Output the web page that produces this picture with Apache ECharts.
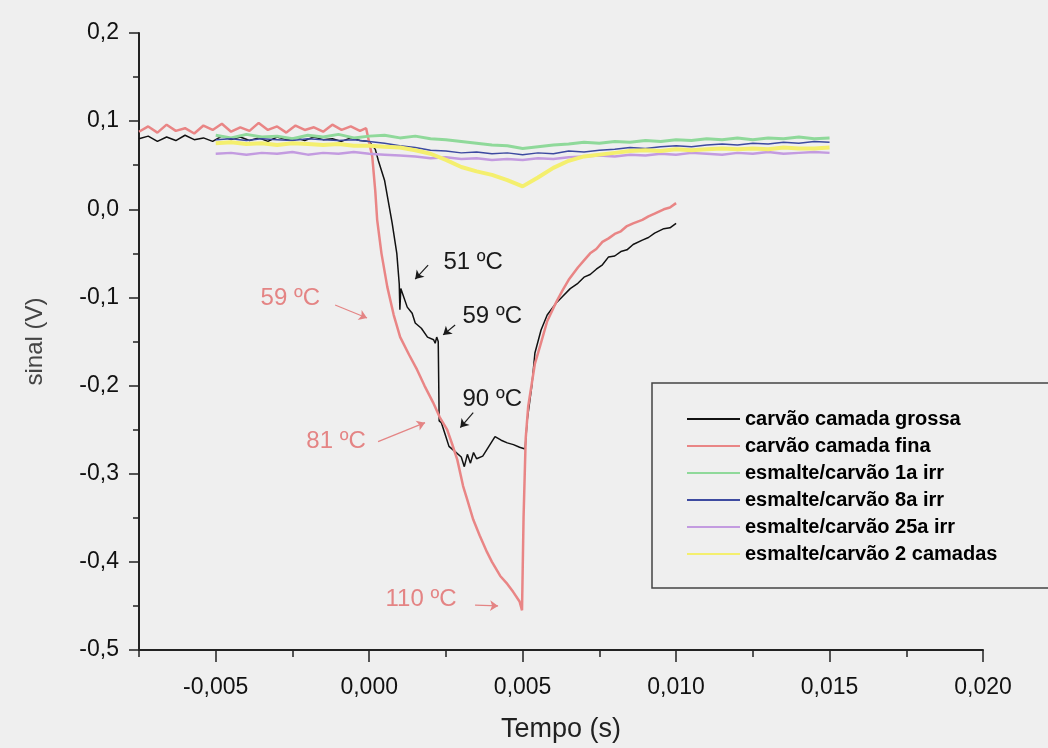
<!DOCTYPE html>
<html>
<head>
<meta charset="utf-8">
<script src="https://cdn.jsdelivr.net/npm/echarts@6/dist/echarts.min.js"></script>
<style>
  html, body { margin: 0; background: #efefef; }
  #chart { width: 1048px; height: 748px; }
</style>
</head>
<body>
<div id="chart"></div>
<script>
  // tick positions of the time axis (every 0.0025 s, labels on every other one)
  const xTicks = [-0.0075, -0.005, -0.0025, 0, 0.0025, 0.005, 0.0075, 0.01, 0.0125, 0.015, 0.0175, 0.02];

  const seriesNames = [
    'carvão camada grossa',
    'carvão camada fina',
    'esmalte/carvão 1a irr',
    'esmalte/carvão 8a irr',
    'esmalte/carvão 25a irr',
    'esmalte/carvão 2 camadas'
  ];

  // [tempo, sinal]
  const grossa = [
    [-0.0075, 0.080], [-0.0072, 0.083], [-0.0069, 0.077], [-0.0066, 0.082], [-0.0063, 0.078],
    [-0.0060, 0.084], [-0.0057, 0.079], [-0.0054, 0.081], [-0.0051, 0.077], [-0.0048, 0.083],
    [-0.0045, 0.079], [-0.0042, 0.082], [-0.0039, 0.078], [-0.0036, 0.081], [-0.0033, 0.077],
    [-0.0030, 0.082], [-0.0027, 0.079], [-0.0024, 0.081], [-0.0021, 0.078], [-0.0018, 0.082],
    [-0.0015, 0.079], [-0.0012, 0.080], [-0.0009, 0.077], [-0.0006, 0.081], [-0.0003, 0.078],
    [0.0, 0.077], [0.0002, 0.068], [0.0003, 0.055], [0.0005, 0.033], [0.00075, -0.016],
    [0.0009, -0.05], [0.00098, -0.085], [0.0010, -0.114], [0.00103, -0.09], [0.00107, -0.088],
    [0.00124, -0.111], [0.0014, -0.118], [0.0015, -0.129], [0.0017, -0.135], [0.0019, -0.145],
    [0.0021, -0.148], [0.00215, -0.152], [0.0022, -0.145], [0.00225, -0.150], [0.00228, -0.24],
    [0.00235, -0.242], [0.0025, -0.258], [0.0026, -0.269], [0.0028, -0.275], [0.0030, -0.281],
    [0.0031, -0.292], [0.0032, -0.278], [0.0033, -0.288], [0.0034, -0.276], [0.0035, -0.283],
    [0.0037, -0.280], [0.0039, -0.269], [0.0041, -0.258], [0.0043, -0.262], [0.0045, -0.265],
    [0.0047, -0.267], [0.0049, -0.270], [0.00508, -0.272], [0.00515, -0.239], [0.0053, -0.200],
    [0.0054, -0.163], [0.0056, -0.137], [0.0058, -0.120], [0.0061, -0.106], [0.0063, -0.099],
    [0.00655, -0.090], [0.0068, -0.084], [0.0070, -0.077], [0.0072, -0.074], [0.0074, -0.068],
    [0.0076, -0.063], [0.0078, -0.054], [0.0080, -0.053], [0.0082, -0.048], [0.0084, -0.046],
    [0.0086, -0.040], [0.0089, -0.035], [0.0091, -0.032], [0.0093, -0.027], [0.0096, -0.022],
    [0.0098, -0.021], [0.0100, -0.016]
  ];

  const fina = [
    [-0.0075, 0.088], [-0.0072, 0.094], [-0.0069, 0.087], [-0.0066, 0.096], [-0.0063, 0.089],
    [-0.0060, 0.092], [-0.0057, 0.086], [-0.0054, 0.095], [-0.0051, 0.090], [-0.0048, 0.097],
    [-0.0045, 0.088], [-0.0042, 0.093], [-0.0039, 0.089], [-0.0036, 0.098], [-0.0033, 0.090],
    [-0.0030, 0.094], [-0.0027, 0.087], [-0.0024, 0.095], [-0.0021, 0.090], [-0.0018, 0.093],
    [-0.0015, 0.088], [-0.0012, 0.096], [-0.0009, 0.090], [-0.0006, 0.094], [-0.0003, 0.089],
    [-0.0001, 0.092], [0.0001, 0.060], [0.0002, 0.020], [0.00026, -0.012], [0.0004, -0.050],
    [0.00059, -0.088], [0.0008, -0.120], [0.00101, -0.145], [0.0013, -0.165], [0.00156, -0.182],
    [0.0018, -0.200], [0.00208, -0.219], [0.0023, -0.236], [0.00254, -0.250], [0.0027, -0.266],
    [0.00287, -0.284], [0.00306, -0.314], [0.0032, -0.330], [0.00339, -0.352], [0.0036, -0.370],
    [0.00384, -0.389], [0.0040, -0.400], [0.00427, -0.416], [0.0045, -0.425], [0.00469, -0.434],
    [0.0049, -0.445], [0.00498, -0.455], [0.00503, -0.350], [0.0051, -0.260], [0.00518, -0.224],
    [0.0054, -0.175], [0.00557, -0.155], [0.0058, -0.127], [0.0061, -0.105], [0.0063, -0.092],
    [0.0065, -0.080], [0.0068, -0.066], [0.0070, -0.058], [0.0072, -0.050], [0.0074, -0.045],
    [0.0076, -0.037], [0.0078, -0.033], [0.0080, -0.028], [0.0082, -0.025], [0.0084, -0.019],
    [0.0086, -0.016], [0.0089, -0.012], [0.0091, -0.008], [0.0093, -0.005], [0.0096, 0.000],
    [0.0098, 0.002], [0.0100, 0.007]
  ];

  // the four enamel curves share the same sampling times
  const tempoEsmalte = [
    -0.005, -0.0045, -0.004, -0.0035, -0.003, -0.0025, -0.002, -0.0015, -0.001, -0.0005,
    0.0, 0.0005, 0.001, 0.0015, 0.002, 0.0025, 0.003, 0.0035, 0.004, 0.0045,
    0.005, 0.0055, 0.006, 0.0065, 0.007, 0.0075, 0.008, 0.0085, 0.009, 0.0095,
    0.01, 0.0105, 0.011, 0.0115, 0.012, 0.0125, 0.013, 0.0135, 0.014, 0.0145, 0.015
  ];
  const irr1 = [
    0.084, 0.081, 0.085, 0.082, 0.083, 0.080, 0.084, 0.082, 0.085, 0.081,
    0.083, 0.084, 0.081, 0.083, 0.080, 0.079, 0.077, 0.075, 0.073, 0.072,
    0.069, 0.071, 0.073, 0.074, 0.076, 0.075, 0.077, 0.076, 0.078, 0.077,
    0.079, 0.078, 0.080, 0.079, 0.081, 0.079, 0.081, 0.080, 0.082, 0.080, 0.081
  ];
  const irr8 = [
    0.079, 0.080, 0.078, 0.080, 0.079, 0.078, 0.080, 0.079, 0.078, 0.079,
    0.077, 0.075, 0.072, 0.070, 0.067, 0.066, 0.064, 0.065, 0.063, 0.064,
    0.062, 0.064, 0.063, 0.066, 0.065, 0.067, 0.068, 0.070, 0.069, 0.071,
    0.072, 0.071, 0.073, 0.074, 0.073, 0.075, 0.074, 0.076, 0.075, 0.077, 0.076
  ];
  const irr25 = [
    0.063, 0.064, 0.062, 0.064, 0.063, 0.065, 0.062, 0.064, 0.063, 0.065,
    0.063, 0.062, 0.061, 0.060, 0.058, 0.059, 0.057, 0.058, 0.056, 0.057,
    0.056, 0.058, 0.057, 0.059, 0.060, 0.061, 0.060, 0.062, 0.061, 0.063,
    0.062, 0.064, 0.063, 0.062, 0.064, 0.063, 0.065, 0.063, 0.064, 0.065, 0.064
  ];
  const duasCamadas = [
    0.075, 0.076, 0.074, 0.075, 0.073, 0.075, 0.074, 0.073, 0.074, 0.072,
    0.072, 0.071, 0.070, 0.067, 0.063, 0.056, 0.048, 0.043, 0.039, 0.033,
    0.026, 0.036, 0.047, 0.055, 0.060, 0.062, 0.064, 0.066, 0.067, 0.066,
    0.068, 0.067, 0.068, 0.069, 0.068, 0.069, 0.068, 0.070, 0.069, 0.069, 0.070
  ];

  // temperature notes: text centre, arrow start, arrow tip (data coords)
  const notes = [
    { text: '51 ºC', color: '#1a1a1a', at: [0.00339, -0.060], from: [0.00192, -0.0633], to: [0.0015, -0.0792] },
    { text: '59 ºC', color: '#1a1a1a', at: [0.00401, -0.122], from: [0.0028, -0.1312], to: [0.00241, -0.1425] },
    { text: '90 ºC', color: '#1a1a1a', at: [0.00401, -0.216], from: [0.00339, -0.2308], to: [0.00297, -0.2477] },
    { text: '59 ºC', color: '#e48484', at: [-0.00257, -0.1007], from: [-0.00111, -0.1086], to: [-0.00007, -0.1233] },
    { text: '81 ºC', color: '#e48484', at: [-0.00108, -0.2636], from: [0.00029, -0.2636], to: [0.00182, -0.2421] },
    { text: '110 ºC', color: '#e48484', at: [0.00169, -0.442], from: [0.00345, -0.449], to: [0.0042, -0.450] }
  ];

  const colors = ['#111111', '#e98585', '#8fd99a', '#3d4aa0', '#c39be0', '#f4ef6e'];
  const widths = [1.5, 2.5, 3, 1.5, 2.5, 4];
  const FONT = '"Liberation Sans", Arial, sans-serif';

  const comma = (v, d) => v.toFixed(d).replace('.', ',');

  function arrowsFor(color) {
    return notes.filter(n => n.color === color).map(n => [
      { coord: n.from }, { coord: n.to }
    ]);
  }

  function lineSeries(i, data) {
    const s = {
      name: seriesNames[i],
      type: 'line',
      xAxisIndex: 0,
      yAxisIndex: 0,
      data: data,
      symbol: 'none',
      showSymbol: false,
      lineStyle: { color: colors[i], width: widths[i] },
      itemStyle: { color: colors[i] },
      animation: false
    };
    if (i === 0 || i === 1) {
      const c = i === 0 ? '#1a1a1a' : '#e48484';
      s.markLine = {
        silent: true,
        animation: false,
        symbol: ['none', 'arrow'],
        symbolSize: 8,
        label: { show: false },
        lineStyle: { color: c, width: 1.2, type: 'solid' },
        data: arrowsFor(c)
      };
    }
    return s;
  }

  const chart = echarts.init(document.getElementById('chart'));

  chart.setOption({
    backgroundColor: '#efefef',
    animation: false,
    textStyle: { fontFamily: FONT },
    grid: { left: 139, right: 65, top: 33, bottom: 95 },
    legend: {
      data: seriesNames,
      orient: 'vertical',
      left: 687,
      top: 409,
      padding: 0,
      icon: 'rect',
      itemWidth: 53,
      itemHeight: 2,
      itemGap: 7,
      textStyle: { fontFamily: FONT, fontWeight: 'bold', fontSize: 20, color: '#000', lineHeight: 20 }
    },
    xAxis: [
      {
        type: 'value',
        position: 'bottom',
        min: -0.0075,
        max: 0.02,
        interval: 0.0025,
        axisLine: { onZero: false, lineStyle: { color: '#222', width: 2 } },
        axisTick: { length: 7, lineStyle: { color: '#222', width: 1.5 } },
        axisLabel: { show: false },
        splitLine: { show: false }
      },
      {
        type: 'category',
        position: 'bottom',
        data: xTicks,
        boundaryGap: false,
        axisLine: { show: false, onZero: false },
        axisTick: { show: true, length: 12, interval: i => i % 2 === 1, lineStyle: { color: '#222', width: 1.5 } },
        axisLabel: {
          interval: i => i % 2 === 1,
          formatter: v => comma(Number(v), 3),
          fontSize: 23,
          color: '#111',
          margin: 26
        },
        name: 'Tempo (s)',
        nameLocation: 'middle',
        nameGap: 66,
        nameTextStyle: { fontSize: 27, color: '#222' },
        splitLine: { show: false }
      }
    ],
    yAxis: {
      type: 'value',
      min: -0.5,
      max: 0.2,
      interval: 0.1,
      axisLine: { show: true, onZero: false, lineStyle: { color: '#222', width: 2 } },
      axisTick: { show: true, length: 10, lineStyle: { color: '#222', width: 1.5 } },
      minorTick: { show: true, splitNumber: 2, length: 6, lineStyle: { color: '#222', width: 1.5 } },
      axisLabel: { formatter: v => comma(v, 1), fontSize: 23, color: '#111', margin: 20 },
      splitLine: { show: false },
      name: 'sinal (V)',
      nameLocation: 'middle',
      nameGap: 92,
      nameTextStyle: { fontSize: 24, color: '#444' }
    },
    series: [
      lineSeries(0, grossa),
      lineSeries(1, fina),
      lineSeries(2, tempoEsmalte.map((t, k) => [t, irr1[k]])),
      lineSeries(3, tempoEsmalte.map((t, k) => [t, irr8[k]])),
      lineSeries(4, tempoEsmalte.map((t, k) => [t, irr25[k]])),
      lineSeries(5, tempoEsmalte.map((t, k) => [t, duasCamadas[k]]))
    ]
  });

  // legend frame (runs off the right edge like the original) and the note texts
  const graphics = [{
    type: 'rect',
    z: 1,
    shape: { x: 652, y: 383, width: 440, height: 205 },
    style: { fill: 'rgba(0,0,0,0)', stroke: '#444', lineWidth: 1.5 }
  }];
  notes.forEach(n => {
    const p = chart.convertToPixel({ xAxisIndex: 0, yAxisIndex: 0 }, n.at);
    graphics.push({
      type: 'text',
      z: 10,
      x: p[0],
      y: p[1],
      style: {
        text: n.text,
        fill: n.color,
        font: '24px ' + FONT,
        align: 'center',
        verticalAlign: 'middle'
      }
    });
  });
  chart.setOption({ graphic: graphics });
</script>
</body>
</html>
